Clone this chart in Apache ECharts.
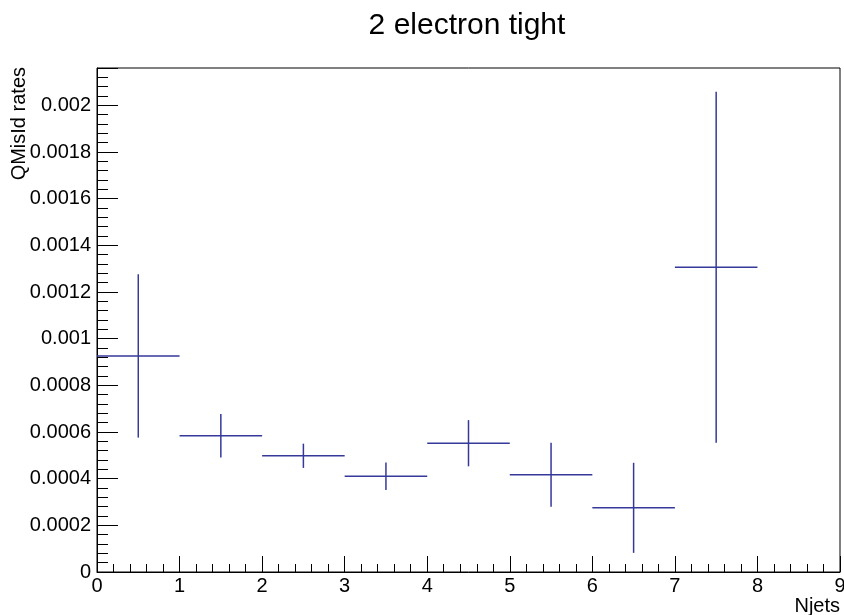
<!DOCTYPE html>
<html>
<head>
<meta charset="utf-8">
<script src="https://cdn.jsdelivr.net/npm/echarts@6/dist/echarts.min.js"></script>
<style>
html,body{margin:0;padding:0;background:#fff;}
#chart{width:844px;height:615px;}
</style>
</head>
<body>
<div id="chart"></div>
<script>
// Bin data (Njets)
const binLow    = [0, 1, 2, 3, 4, 5, 6, 7];
const binHigh   = [1, 2, 3, 4, 5, 6, 7, 8];
const rates     = [0.000926, 0.000584, 0.000498, 0.000410, 0.000552, 0.000417, 0.000275, 0.001306];
const rateErrs  = [0.000350, 0.000093, 0.000052, 0.000059, 0.000099, 0.000137, 0.000193, 0.000752];
const xTickLabels = ['0','1','2','3','4','5','6','7','8','9'];
const yTickLabels = ['0','0.0002','0.0004','0.0006','0.0008','0.001','0.0012','0.0014','0.0016','0.0018','0.002'];

const titleText = '2 electron tight';
const xTitle = 'Njets';
const yTitle = 'QMisId rates';

const lineColor = '#35399a';
const FONT = 'Liberation Sans, Arial, Helvetica, sans-serif';

const data = rates.map((v, i) => [binLow[i], binHigh[i], v, rateErrs[i]]);

const chart = echarts.init(document.getElementById('chart'), null, {renderer: 'canvas'});

chart.setOption({
  animation: false,
  backgroundColor: '#fff',
  grid: {
    left: 97, right: 4, top: 68, bottom: 43,
    outerBoundsMode: 'none', containLabel: false,
    show: true, borderColor: '#000', borderWidth: 1, backgroundColor: 'transparent'
  },
  xAxis: {
    type: 'value', min: 0, max: 9, interval: 1,
    axisLine: {show: true, onZero: false, lineStyle: {color: '#000', width: 1}},
    axisTick: {show: true, inside: true, length: 16, lineStyle: {color: '#000', width: 1}},
    minorTick: {show: true, splitNumber: 5, length: 8, lineStyle: {color: '#000', width: 1}},
    splitLine: {show: false},
    axisLabel: {
      margin: 4, color: '#000', fontFamily: FONT, fontSize: 20, hideOverlap: false,
      formatter: v => { const i = Math.round(v); return (Math.abs(v - i) < 1e-9 && xTickLabels[i] !== undefined) ? xTickLabels[i] : ''; }
    }
  },
  yAxis: {
    type: 'value', min: 0, max: 0.00216, interval: 0.0002,
    axisLine: {show: true, onZero: false, lineStyle: {color: '#000', width: 1}},
    axisTick: {show: true, inside: true, length: 21, lineStyle: {color: '#000', width: 1}},
    minorTick: {show: true, splitNumber: 5, length: 11, lineStyle: {color: '#000', width: 1}},
    splitLine: {show: false},
    axisLabel: {
      margin: 6, color: '#000', fontFamily: FONT, fontSize: 20, showMaxLabel: false,
      formatter: v => { const i = Math.round(v / 0.0002); return (Math.abs(v - i * 0.0002) < 1e-10 && yTickLabels[i] !== undefined) ? yTickLabels[i] : ''; }
    }
  },
  graphic: [
    {type: 'text', x: 467, y: 26, style: {text: titleText, font: '30px ' + FONT, fill: '#000', textAlign: 'center', textVerticalAlign: 'middle'}},
    {type: 'text', x: 840, y: 606, style: {text: xTitle, font: '20px ' + FONT, fill: '#000', textAlign: 'right', textVerticalAlign: 'middle'}},
    {type: 'text', x: 19, y: 67, rotation: Math.PI / 2, style: {text: yTitle, font: '20px ' + FONT, fill: '#000', textAlign: 'right', textVerticalAlign: 'middle'}}
  ],
  series: [{
    type: 'custom',
    coordinateSystem: 'cartesian2d',
    encode: {x: [0, 1], y: 2},
    data: data,
    clip: false,
    renderItem: function (params, api) {
      const lo = api.value(0), hi = api.value(1), y = api.value(2), e = api.value(3);
      const xc = (lo + hi) / 2;
      const pL = api.coord([lo, y]);
      const pR = api.coord([hi, y]);
      const pT = api.coord([xc, y + e]);
      const pB = api.coord([xc, y - e]);
      const st = {stroke: lineColor, lineWidth: 1.5, fill: null};
      return {
        type: 'group',
        children: [
          {type: 'line', shape: {x1: pL[0], y1: pL[1], x2: pR[0], y2: pR[1]}, style: st},
          {type: 'line', shape: {x1: pT[0], y1: pT[1], x2: pB[0], y2: pB[1]}, style: st}
        ]
      };
    }
  }]
});
</script>
</body>
</html>
